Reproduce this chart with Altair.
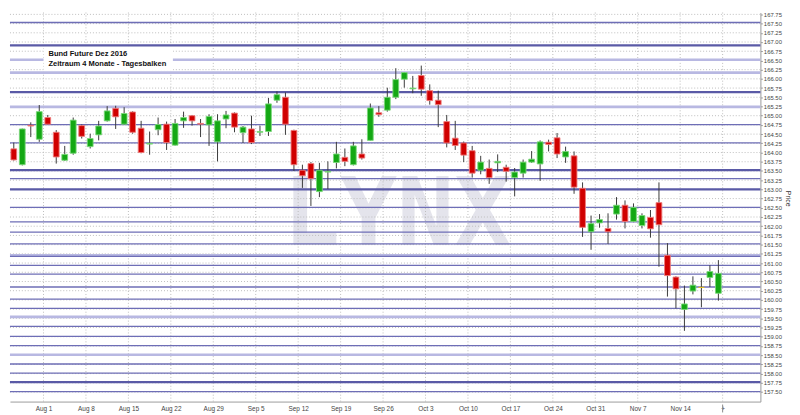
import altair as alt
import pandas as pd

# ---------------- data ----------------
dates = [d.strftime("%Y-%m-%d") for d in pd.bdate_range("2016-07-26", "2016-11-18")]

opens = [164.10, 163.67, 164.74, 164.36, 164.95, 164.55, 163.79, 163.98, 164.73, 164.16,
         164.48, 164.86, 165.20, 164.77, 165.10, 164.66, 164.23, 164.62, 164.77, 164.20,
         164.86, 165.00, 164.79, 164.75, 164.29, 164.91, 165.07, 164.54, 164.64, 164.55,
         164.57, 165.42, 165.50, 164.60, 163.52, 163.70, 162.94, 163.47, 163.73, 163.87,
         163.67, 163.96, 164.33, 165.08, 165.15, 165.50, 165.99, 165.73, 166.09, 165.68,
         165.42, 164.84, 164.39, 164.26, 164.05, 163.52, 163.57, 163.72, 163.60, 163.32,
         163.44, 163.74, 163.69, 164.28, 164.40, 163.88, 163.91, 163.03, 161.85, 162.09,
         161.94, 162.33, 162.57, 162.13, 162.02, 162.24, 162.64, 161.21, 160.62, 159.74,
         160.24, 160.34, 160.61, 160.18]
highs = [164.27, 164.65, 164.82, 165.29, 165.02, 164.61, 164.18, 164.95, 164.76, 164.51,
         164.86, 165.26, 165.27, 165.23, 165.12, 164.86, 164.57, 164.95, 164.84, 164.91,
         165.11, 165.02, 164.91, 165.04, 165.04, 165.13, 165.09, 164.72, 165.00, 164.73,
         165.48, 165.66, 165.63, 164.62, 163.67, 163.74, 163.72, 163.76, 164.29, 164.11,
         164.29, 164.36, 165.33, 165.26, 165.76, 166.29, 166.18, 166.08, 166.36, 165.85,
         165.68, 165.02, 164.86, 164.30, 164.18, 163.91, 163.81, 163.95, 163.67, 163.58,
         163.81, 164.04, 164.33, 164.35, 164.53, 164.16, 164.03, 163.19, 162.29, 162.33,
         162.35, 162.79, 162.70, 162.62, 162.35, 162.44, 163.19, 161.54, 160.64, 160.39,
         160.64, 160.59, 160.94, 161.08]
lows = [163.78, 163.65, 164.42, 164.29, 164.76, 163.70, 163.77, 163.94, 164.38, 164.11,
        164.33, 164.84, 164.64, 164.75, 164.51, 163.98, 163.94, 164.47, 164.07, 164.19,
        164.67, 164.73, 164.42, 164.18, 163.76, 164.66, 164.55, 164.26, 164.23, 164.45,
        164.45, 165.35, 164.48, 163.50, 163.04, 162.55, 162.79, 163.01, 163.57, 163.63,
        163.65, 163.81, 164.32, 164.97, 165.11, 165.45, 165.76, 165.61, 165.54, 165.30,
        164.69, 164.14, 164.07, 163.74, 163.32, 163.41, 163.15, 163.47, 163.21, 162.81,
        163.32, 163.72, 163.23, 164.03, 163.85, 163.72, 162.88, 161.71, 161.36, 161.96,
        161.52, 162.18, 161.94, 162.11, 161.94, 161.69, 160.90, 160.09, 159.77, 159.16,
        160.15, 159.80, 160.35, 159.98]
closes = [163.80, 164.64, 164.72, 165.11, 164.77, 163.88, 163.95, 164.88, 164.44, 164.38,
          164.72, 165.13, 164.97, 165.06, 164.55, 164.00, 164.25, 164.76, 164.27, 164.79,
          164.95, 164.86, 164.77, 164.98, 164.86, 165.02, 164.69, 164.69, 164.27, 164.57,
          165.32, 165.57, 164.77, 163.67, 163.37, 163.29, 163.52, 163.49, 163.96, 163.76,
          164.18, 163.85, 165.21, 165.03, 165.50, 165.98, 166.17, 165.75, 165.72, 165.41,
          165.30, 164.26, 164.19, 163.93, 163.44, 163.74, 163.32, 163.76, 163.49, 163.47,
          163.74, 163.82, 164.29, 164.22, 163.96, 164.03, 163.06, 161.97, 162.07, 162.18,
          161.85, 162.57, 162.13, 162.51, 162.29, 161.93, 162.04, 160.66, 160.30, 159.89,
          160.40, 160.34, 160.77, 160.72]

# horizontal support / resistance levels
levels_strong = [166.91, 165.64, 163.52, 163.00, 157.77]
levels_normal = [167.53, 164.76, 164.26, 163.29, 162.51, 162.12, 161.84, 161.52, 161.18,
                 160.94, 160.70, 160.35, 160.02, 159.77, 159.28, 159.01, 158.76, 158.26,
                 158.01, 157.51]
levels_light = [166.52, 166.17, 165.24, 161.21, 159.54, 158.51]

week_labels = ["Aug 1", "Aug 8", "Aug 15", "Aug 22", "Aug 29", "Sep 5", "Sep 12", "Sep 19",
               "Sep 26", "Oct 3", "Oct 10", "Oct 17", "Oct 24", "Oct 31", "Nov 7", "Nov 14", "+"]
price_ticks = [round(157.50 + 0.25 * i, 2) for i in range(42)]

title_lines = "Bund Future Dez 2016\nZeitraum 4 Monate - Tagesbalken"
watermark_text = "LYNX"

# ---------------- frames ----------------
n = len(dates)
df = pd.DataFrame({"idx": list(range(n)), "date": dates, "open": opens, "high": highs,
                   "low": lows, "close": closes})
df["dir"] = ["up" if c > o else ("down" if c < o else "flat") for o, c in zip(opens, closes)]
df["xl"] = df["idx"] - 0.34
df["xr"] = df["idx"] + 0.34

# week boundaries (Monday start) in trading-day index units
week_ticks = [i - 0.5 for i, d in enumerate(pd.to_datetime(dates)) if d.weekday() == 0]
week_ticks.append(n - 0.5)

W, H = 760, 394
xscale = alt.Scale(domain=[-0.45, 87.95], nice=False, zero=False)
yscale = alt.Scale(domain=[157.24, 167.80], nice=False, zero=False)

label_arr = "[" + ",".join("'%s'" % s for s in week_labels) + "]"
xaxis = alt.Axis(values=week_ticks, labelExpr=label_arr + "[round((datum.value - 3.5) / 5)]",
                 title=None, grid=False, ticks=False, domainColor="#9a9a9a",
                 labelFontSize=6.5, labelColor="#444444", labelPadding=4,
                 labelFlush=False, labelOverlap=False, labelFont="Liberation Sans")
yaxis = alt.Axis(orient="right", values=price_ticks, format=".2f", title="Price",
                 titleAngle=90, titleFontSize=7, titleFontWeight="normal", titleColor="#333333",
                 titlePadding=3, titleY=188, titleFont="Liberation Sans",
                 grid=False, tickSize=2, tickColor="#9a9a9a", domainColor="#9a9a9a",
                 labelFontSize=6, labelColor="#444444", labelPadding=1,
                 labelFlush=False, labelOverlap=False, labelFont="Liberation Sans")


def X(field):
    return alt.X(field, type="quantitative", scale=xscale, axis=xaxis)


def Y(field):
    return alt.Y(field, type="quantitative", scale=yscale, axis=yaxis)


# watermark (anchored in data units at the middle of the chart)
wm = pd.DataFrame({"t": [watermark_text], "x": [45.15], "y": [161.49]})
wm_layer = alt.Chart(wm).mark_text(
    font="DejaVu Sans Mono", fontSize=96, fontWeight="bold", color="#e4e4ec",
    baseline="alphabetic", align="center"
).encode(x=X("x"), y=Y("y"), text="t:N")

# dotted grid
vgrid = alt.Chart(pd.DataFrame({"t": week_ticks})).mark_rule(
    color="#bdbdbd", strokeDash=[1, 2], strokeWidth=1).encode(x=X("t"))
hgrid = alt.Chart(pd.DataFrame({"p": price_ticks})).mark_rule(
    color="#bdbdbd", strokeDash=[1, 2], strokeWidth=1).encode(y=Y("p"))

# level lines
lv_light = alt.Chart(pd.DataFrame({"p": levels_light})).mark_rule(
    color="#b8b8e2", strokeWidth=2.6).encode(y=Y("p"))
lv_normal = alt.Chart(pd.DataFrame({"p": levels_normal})).mark_rule(
    color="#6e6eb6", strokeWidth=1.3).encode(y=Y("p"))
lv_strong = alt.Chart(pd.DataFrame({"p": levels_strong})).mark_rule(
    color="#5a5aa6", strokeWidth=2.3).encode(y=Y("p"))

# title box
one = pd.DataFrame({"t": [title_lines]})
box = alt.Chart(one).mark_rect(color="white").encode(
    x=alt.value(34), x2=alt.value(165), y=alt.value(35), y2=alt.value(59))
ttl = alt.Chart(one).mark_text(
    align="left", baseline="top", font="Liberation Sans", fontSize=7.6, fontWeight="bold",
    color="#111111", lineBreak="\n", lineHeight=10.5
).encode(x=alt.value(39), y=alt.value(38), text="t:N")

# candles
base = alt.Chart(df)
wicks = base.mark_rule(color="#3a3a3a", strokeWidth=1).encode(
    x=X("idx"), y=Y("low"), y2="high")
bodies = base.mark_rect(strokeWidth=0.9).encode(
    x=X("xl"), x2="xr", y=Y("open"), y2="close",
    fill=alt.Fill("dir:N", legend=None,
                  scale=alt.Scale(domain=["up", "down", "flat"],
                                  range=["#14a814", "#d00000", "#e6c21e"])),
    stroke=alt.Stroke("dir:N", legend=None,
                      scale=alt.Scale(domain=["up", "down", "flat"],
                                      range=["#7ad87a", "#ee7b7b", "#e6c21e"])))

# marker tick below the last week boundary
mark_tick = alt.Chart(pd.DataFrame({"t": week_ticks[-1:]})).mark_rule(
    color="#888888", strokeWidth=1, clip=False).encode(
    x=X("t"), y=alt.value(H + 3), y2=alt.value(H + 11))

chart = alt.layer(
    wm_layer, vgrid, hgrid, lv_light, lv_normal, lv_strong, box, ttl, wicks, bodies, mark_tick
).properties(
    width=W, height=H, padding=0, background="white"
).configure_view(stroke=None)

chart.save("out.html", embed_options={"renderer": "svg", "actions": False})
